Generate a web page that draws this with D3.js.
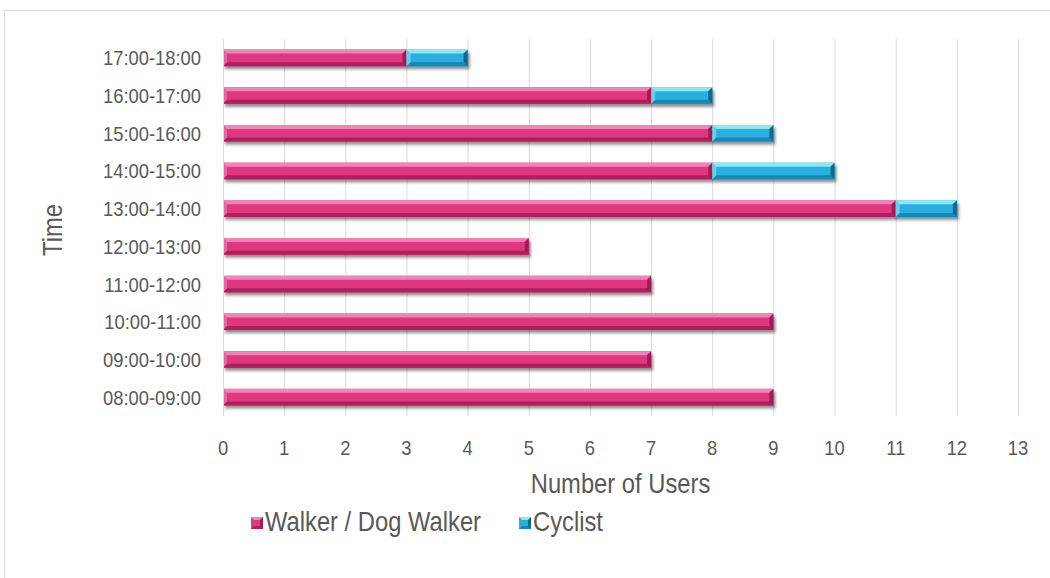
<!DOCTYPE html>
<html>
<head>
<meta charset="utf-8">
<script src="https://cdn.jsdelivr.net/npm/d3@7"></script>
<style>
  body { margin: 0; background: #fff; }
  text { font-family: "Liberation Sans", Arial, sans-serif; fill: #595959; }
</style>
</head>
<body>
<svg id="chart" width="1050" height="578"></svg>
<script>
// data
const timeSlots = ["08:00-09:00","09:00-10:00","10:00-11:00","11:00-12:00","12:00-13:00",
                   "13:00-14:00","14:00-15:00","15:00-16:00","16:00-17:00","17:00-18:00"]
const walkers  = [9, 7, 9, 7, 5, 11, 8, 8, 7, 3]
const cyclists = [0, 0, 0, 0, 0, 1, 2, 1, 1, 1]
const xTicks = [0,1,2,3,4,5,6,7,8,9,10,11,12,13]
const seriesNames = ["Walker / Dog Walker", "Cyclist"]

const palettes = [
  {main: "#e0377f", light: "#f87fb9", dark: "#a8225b", edge: "#7e1443"},
  {main: "#2aafe0", light: "#7febfb", dark: "#1a86b2", edge: "#0a4a68"}
]

const svg = d3.select("#chart")

// outer frame (clipped at right/bottom like the picture)
svg.append("rect")
  .attr("x", 4.5).attr("y", 10.5)
  .attr("width", 1100).attr("height", 700)
  .attr("fill", "none").attr("stroke", "#d9d9d9")

const pLeft = 223, pRight = 1018, pTop = 39, pBottom = 416

const x = d3.scaleLinear().domain([0, 13]).range([pLeft, pRight])
const y = d3.scaleBand().domain(timeSlots.slice().reverse()).range([pTop, pBottom]).paddingInner(0.56).paddingOuter(0.28)

// text in the picture is a bit narrow, squeeze it sideways
const tickFont = 21, tickSqueeze = 0.875
const titleFont = 27, titleSqueeze = 0.88

// gridlines
svg.append("g").selectAll("line")
  .data(xTicks)
  .join("line")
    .attr("x1", d => x(d) + 0.5).attr("x2", d => x(d) + 0.5)
    .attr("y1", pTop).attr("y2", pBottom)
    .attr("stroke", "#d9d9d9").attr("stroke-width", 1)

// shadow filter
const defs = svg.append("defs")
const f = defs.append("filter").attr("id", "shadow").attr("x", "-5%").attr("y", "-50%").attr("width", "110%").attr("height", "200%")
f.append("feGaussianBlur").attr("in", "SourceAlpha").attr("stdDeviation", 1.6)
f.append("feOffset").attr("dx", 2).attr("dy", 3).attr("result", "b")
f.append("feComponentTransfer").append("feFuncA").attr("type", "linear").attr("slope", 0.45)

// stacked segments
let segs = []
timeSlots.forEach((t, i) => {
  const vals = [walkers[i], cyclists[i]]
  let start = 0
  vals.forEach((v, s) => {
    if (v > 0) segs.push({slot: t, s: s, x0: start, x1: start + v})
    start += v
  })
})

const bh = y.bandwidth()
const bev = 4

const barG = svg.append("g")
const shadowG = barG.append("g").attr("filter", "url(#shadow)")
// shadow shapes: one rect per full bar
timeSlots.forEach((t, i) => {
  shadowG.append("rect")
    .attr("x", x(0)).attr("y", y(t))
    .attr("width", x(walkers[i] + cyclists[i]) - x(0)).attr("height", bh)
    .attr("fill", "#000")
})

segs.forEach(d => {
  const p = palettes[d.s]
  const x0 = x(d.x0), x1 = x(d.x1), y0 = y(d.slot), y1 = y0 + bh
  const g = barG.append("g")
  g.append("rect").attr("x", x0).attr("y", y0).attr("width", x1 - x0).attr("height", bh).attr("fill", p.main)
  // top bevel
  g.append("polygon")
    .attr("points", [[x0, y0], [x1, y0], [x1 - bev, y0 + bev], [x0 + bev, y0 + bev]].join(" "))
    .attr("fill", p.light)
  // bottom bevel
  g.append("polygon")
    .attr("points", [[x0, y1], [x1, y1], [x1 - bev, y1 - bev], [x0 + bev, y1 - bev]].join(" "))
    .attr("fill", p.dark)
  // left bevel
  g.append("polygon")
    .attr("points", [[x0, y0], [x0 + bev, y0 + bev], [x0 + bev, y1 - bev], [x0, y1]].join(" "))
    .attr("fill", p.light).attr("opacity", 0.6)
  // right bevel
  g.append("polygon")
    .attr("points", [[x1, y0], [x1 - bev, y0 + bev], [x1 - bev, y1 - bev], [x1, y1]].join(" "))
    .attr("fill", p.edge).attr("opacity", 0.7)
})

// axis line (y)
svg.append("line")
  .attr("x1", pLeft + 0.5).attr("x2", pLeft + 0.5).attr("y1", pTop).attr("y2", pBottom)
  .attr("stroke", "#d9d9d9")

// x tick labels
svg.append("g").selectAll("text")
  .data(xTicks)
  .join("text")
    .attr("transform", d => `translate(${x(d)},455) scale(${tickSqueeze},1)`)
    .attr("text-anchor", "middle")
    .attr("font-size", tickFont + "px")
    .text(d => d)

// y tick labels
svg.append("g").selectAll("text")
  .data(timeSlots)
  .join("text")
    .attr("transform", d => `translate(201,${y(d) + bh / 2 + 7.5}) scale(${tickSqueeze},1)`)
    .attr("text-anchor", "end")
    .attr("font-size", tickFont + "px")
    .text(d => d)

// axis titles
svg.append("text")
  .attr("transform", `translate(${(pLeft + pRight) / 2},493) scale(${titleSqueeze},1)`)
  .attr("text-anchor", "middle").attr("font-size", titleFont + "px")
  .text("Number of Users")

svg.append("text")
  .attr("transform", `translate(62,230) rotate(-90) scale(${titleSqueeze},1)`)
  .attr("text-anchor", "middle").attr("font-size", titleFont + "px")
  .text("Time")

// legend
const legX = [251, 519]
seriesNames.forEach((name, i) => {
  const p = palettes[i]
  const lx = legX[i], ly = 517
  const s = 12
  const g = svg.append("g")
  g.append("rect").attr("x", lx).attr("y", ly).attr("width", s).attr("height", s).attr("fill", p.main)
  g.append("polygon").attr("points", [[lx, ly], [lx + s, ly], [lx + s - 3, ly + 3], [lx + 3, ly + 3]].join(" ")).attr("fill", p.light)
  g.append("polygon").attr("points", [[lx, ly + s], [lx + s, ly + s], [lx + s - 3, ly + s - 3], [lx + 3, ly + s - 3]].join(" ")).attr("fill", p.dark)
  g.append("polygon").attr("points", [[lx + s, ly], [lx + s, ly + s], [lx + s - 3, ly + s - 3], [lx + s - 3, ly + 3]].join(" ")).attr("fill", p.edge).attr("opacity", 0.7)
  g.append("text")
    .attr("transform", `translate(${lx + s + 2},531) scale(${titleSqueeze},1)`)
    .attr("font-size", titleFont + "px").text(name)
})
</script>
</body>
</html>
